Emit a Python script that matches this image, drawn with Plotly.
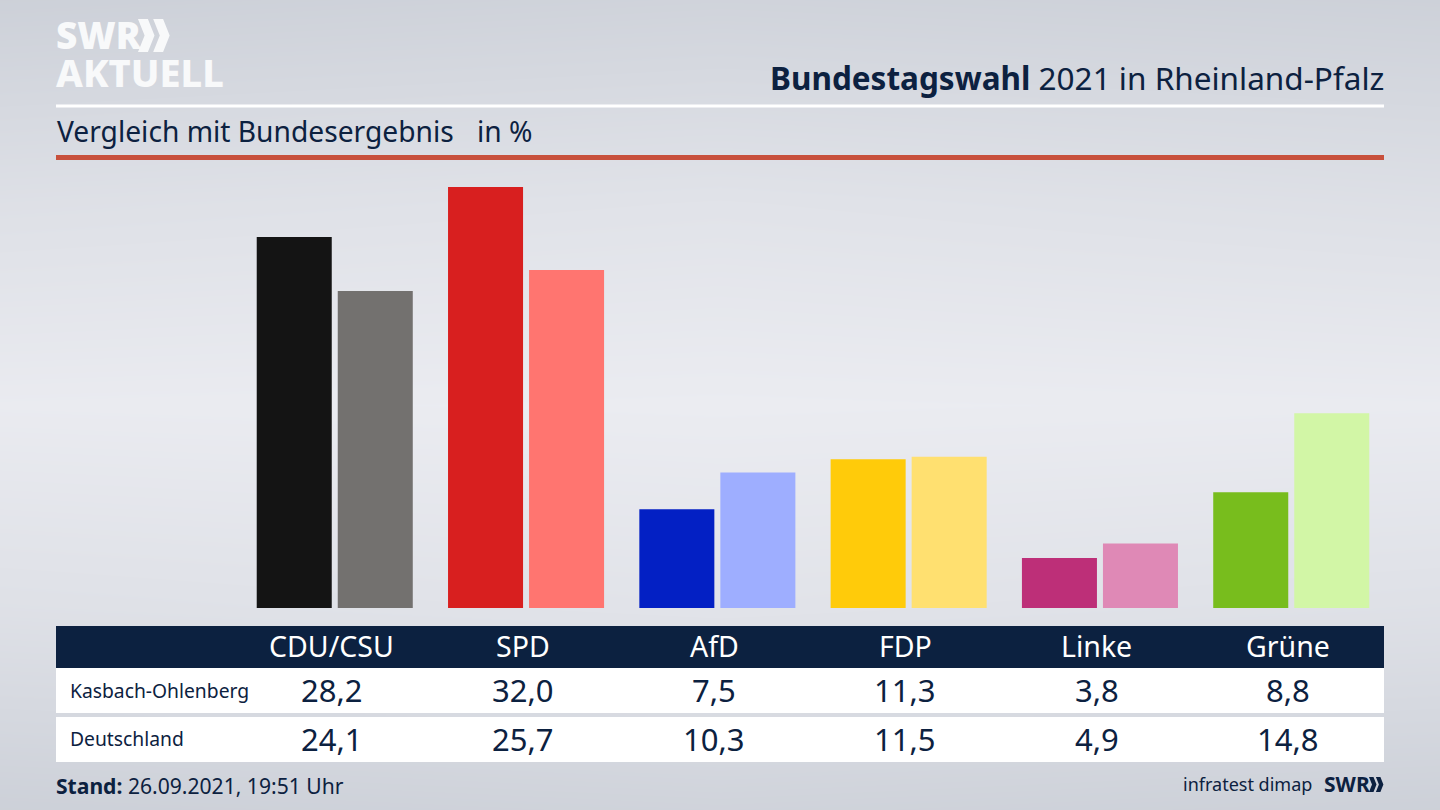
import plotly.graph_objects as go

W, H = 1440, 810
NAVY = "#0c2140"
FONT = "Noto Sans"

parteien = ["CDU/CSU", "SPD", "AfD", "FDP", "Linke", "Grüne"]
kasbach = [28.2, 32.0, 7.5, 11.3, 3.8, 8.8]
deutschland = [24.1, 25.7, 10.3, 11.5, 4.9, 14.8]
farben_kasbach = ["#141414", "#d81f1f", "#0320c4", "#ffcb0a", "#bd2f78", "#78bd1d"]
farben_deutschland = ["#73716f", "#ff7570", "#9eaeff", "#ffe070", "#df89b6", "#d2f6a6"]
zeilen = ["Kasbach-Ohlenberg", "Deutschland"]

# hintergrund, von oben nach unten / links nach rechts geschaetzt
bg_x = [0, 0.5, 1]
bg_y = [0, 0.25, 0.5, 0.75, 1]
bg_z = [
    [0.05, 0.15, 0.07],
    [0.58, 0.68, 0.56],
    [0.96, 1.00, 0.96],
    [0.60, 0.70, 0.60],
    [0.05, 0.14, 0.05],
]


def px(x):
    return x / W


def py(y):
    return 1 - y / H


def text(x, y, s, size, color=NAVY, anchor="left", weight=None):
    fig.add_annotation(x=px(x), y=py(y), xref="paper", yref="paper", text=s,
                       showarrow=False, xanchor=anchor, yanchor="middle",
                       font=dict(family=FONT, size=size, color=color, weight=weight),
                       borderpad=0, borderwidth=0)


def rect(x0, y0, x1, y1, color):
    fig.add_shape(type="rect", xref="paper", yref="paper", x0=px(x0), x1=px(x1),
                  y0=py(y1), y1=py(y0), fillcolor=color, line_width=0, layer="above")


def chevrons(x, y, h, color):
    # die beiden SWR-Pfeile
    w = h * 0.5
    for dx in (0, w * 0.92):
        pts = [(x + dx, y), (x + dx + w * 0.6, y), (x + dx + w, y + h / 2),
               (x + dx + w * 0.6, y + h), (x + dx, y + h), (x + dx + w * 0.4, y + h / 2)]
        path = "M " + " L ".join(f"{px(a):.5f},{py(b):.5f}" for a, b in pts) + " Z"
        fig.add_shape(type="path", xref="paper", yref="paper", path=path,
                      fillcolor=color, line_width=0, layer="above")


fig = go.Figure()

fig.add_trace(go.Heatmap(x=bg_x, y=bg_y, z=bg_z, zsmooth="best", showscale=False,
                         zmin=0, zmax=1, hoverinfo="skip",
                         colorscale=[[0, "#cbcfd7"], [1, "#ebecf1"]],
                         xaxis="x", yaxis="y"))

fig.add_trace(go.Bar(x=parteien, y=kasbach, name=zeilen[0], xaxis="x2", yaxis="y2",
                     marker=dict(color=farben_kasbach, line_width=0)))
fig.add_trace(go.Bar(x=parteien, y=deutschland, name=zeilen[1], xaxis="x2", yaxis="y2",
                     marker=dict(color=farben_deutschland, line_width=0)))

# kopf
rect(56, 104.5, 1384, 107.5, "#ffffff")
rect(56, 155, 1384, 160, "#c8503c")
text(56, 35, "SWR", 37, "#f8f9fa", weight=900)
chevrons(138, 19, 33, "#f8f9fa")
text(56, 72, "AKTUELL", 38, "#f8f9fa", weight=800)
text(1384, 77, "<b>Bundestagswahl</b> 2021 in Rheinland-Pfalz", 31.5, NAVY, "right")
text(57, 131, "Vergleich mit Bundesergebnis", 28.2)
text(477, 131, "in %", 28.2)

# tabelle
rect(56, 626, 1384, 668, NAVY)
rect(56, 668, 1384, 713, "#ffffff")
rect(56, 717, 1384, 762, "#ffffff")
text(70, 690, zeilen[0], 19.3)
text(70, 738.5, zeilen[1], 19.3)
for i, partei in enumerate(parteien):
    xc = 331.5 + i * 191.3
    text(xc, 646, partei, 28.5, "#ffffff", "center")
    text(xc, 690, f"{kasbach[i]:.1f}".replace(".", ","), 31, NAVY, "center")
    text(xc, 739, f"{deutschland[i]:.1f}".replace(".", ","), 31, NAVY, "center")

# fuss
text(56, 785, "<b>Stand:</b> 26.09.2021, 19:51 Uhr", 21.1)
text(1312, 784, "infratest dimap", 18, NAVY, "right")
text(1324, 784, "<b>SWR</b>", 21)
chevrons(1369, 777, 15, NAVY)

top = 32.0 * (608 - 0) / (608 - 187)
fig.update_layout(
    width=W, height=H, margin=dict(l=0, r=0, t=0, b=0),
    paper_bgcolor="#dfe1e7", plot_bgcolor="rgba(0,0,0,0)",
    showlegend=False, barmode="group", bargap=0.153, bargroupgap=0.074,
    font=dict(family=FONT, color=NAVY),
    xaxis=dict(domain=[0, 1], range=[0, 1], visible=False, fixedrange=True),
    yaxis=dict(domain=[0, 1], range=[1, 0], visible=False, fixedrange=True),
    xaxis2=dict(domain=[px(239.1), px(1386.9)], anchor="y2", showticklabels=False,
                showgrid=False, zeroline=False, ticks="", showline=False),
    yaxis2=dict(domain=[py(608), 1], range=[0, top], anchor="x2", visible=False,
                showgrid=False, zeroline=False),
)

fig.write_html("out.html", config=dict(displayModeBar=False),
               post_script="document.body.style.margin='0';")
